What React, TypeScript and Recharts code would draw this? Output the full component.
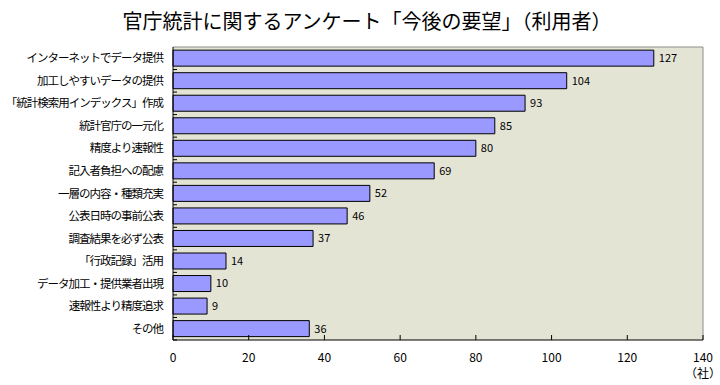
import React from 'react';
import { BarChart, Bar, XAxis, YAxis, CartesianGrid, LabelList } from 'recharts';

const categories = [
  'インターネットでデータ提供',
  '加工しやすいデータの提供',
  '「統計検索用インデックス」作成',
  '統計官庁の一元化',
  '精度より速報性',
  '記入者負担への配慮',
  '一層の内容・種類充実',
  '公表日時の事前公表',
  '調査結果を必ず公表',
  '「行政記録」活用',
  'データ加工・提供業者出現',
  '速報性より精度追求',
  'その他',
];
const values = [127, 104, 93, 85, 80, 69, 52, 46, 37, 14, 10, 9, 36];
const xTicks = [0, 20, 40, 60, 80, 100, 120, 140];

const data = categories.map((name, i) => ({ name, value: values[i] }));

const FONT = '"Noto Sans CJK JP", "Noto Sans", sans-serif';
const BAND = (340 - 47) / categories.length;

const XTick = (props: any) => {
  const { x, y, payload } = props;
  return (
    <g>
      <line x1={x} x2={x} y1={y} y2={y - 5} stroke="#000" />
      <text x={x} y={y + 22} textAnchor="middle" fontSize={12} fontFamily={FONT} fill="#000">
        {payload.value}
      </text>
      {payload.value === 140 && (
        <text x={x} y={y + 38} textAnchor="middle" fontSize={12} fontFamily={FONT} fill="#000">
          （社）
        </text>
      )}
    </g>
  );
};

const YTick = (props: any) => {
  const { x, y, payload } = props;
  return (
    <g>
      <line x1={x} x2={x + 4} y1={y + BAND / 2} y2={y + BAND / 2} stroke="#000" />
      <text
        x={x - 10}
        y={y + 4}
        textAnchor="end"
        fontSize={11.5}
        letterSpacing={-1}
        fontFamily={FONT}
        fill="#000"
      >
        {payload.value}
      </text>
    </g>
  );
};

export default function App() {
  return (
    <div style={{ position: 'absolute', left: 0, top: 0, width: 720, height: 385, background: '#fff' }}>
      <div
        style={{
          position: 'absolute',
          left: 0,
          top: 7,
          width: 734,
          textAlign: 'center',
          fontFamily: FONT,
          fontSize: 20,
          lineHeight: '28px',
          color: '#000',
        }}
      >
        官庁統計に関するアンケート「今後の要望」（利用者）
      </div>
      <BarChart
        width={720}
        height={385}
        data={data}
        layout="vertical"
        margin={{ top: 47, right: 17, bottom: 15, left: 0 }}
        barCategoryGap="14%"
      >
        <CartesianGrid
          fill="#E4E4D5"
          fillOpacity={1}
          stroke="#8c8c8c"
          horizontalCoordinatesGenerator={(p: any) => [p.offset.top]}
          verticalCoordinatesGenerator={(p: any) => [p.offset.left + p.offset.width]}
        />
        <XAxis
          type="number"
          domain={[0, 140]}
          ticks={xTicks}
          interval={0}
          axisLine={{ stroke: '#000' }}
          tickLine={false}
          tickSize={0}
          tickMargin={0}
          tick={<XTick />}
          height={30}
        />
        <YAxis
          type="category"
          dataKey="name"
          width={173}
          interval={0}
          axisLine={{ stroke: '#000' }}
          tickLine={false}
          tickSize={0}
          tickMargin={0}
          tick={<YTick />}
        />
        <Bar dataKey="value" fill="#9999FF" stroke="#000" strokeWidth={1} isAnimationActive={false}>
          <LabelList dataKey="value" position="right" offset={5} fontSize={11} fontFamily={FONT} fill="#000" />
        </Bar>
      </BarChart>
    </div>
  );
}
